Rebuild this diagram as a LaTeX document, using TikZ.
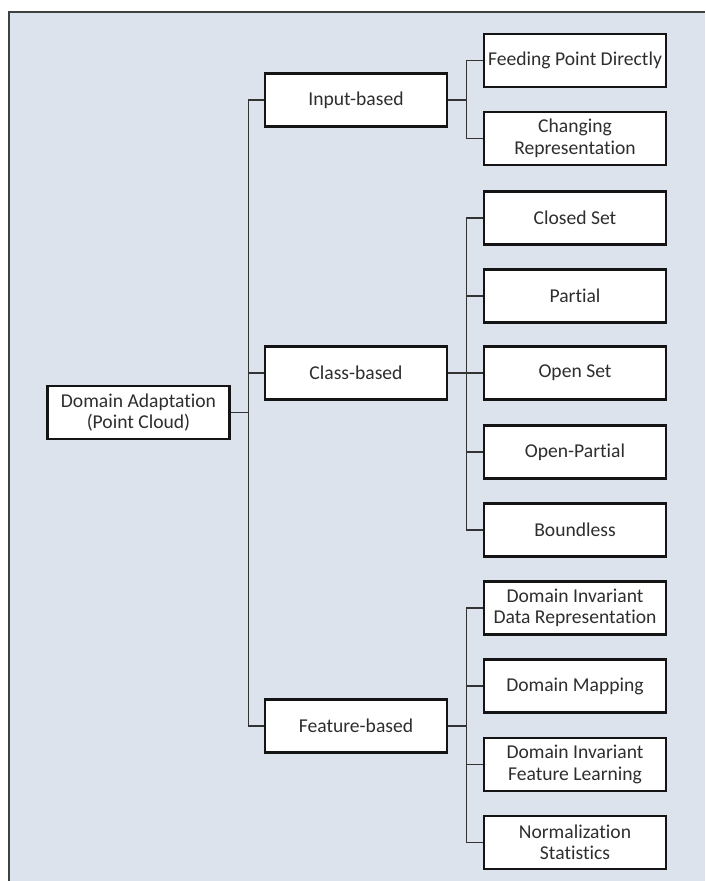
\documentclass[tikz,border=0pt]{standalone}
\usepackage{fontspec}
\setmainfont{Carlito}[Ligatures={NoCommon}]
\usetikzlibrary{calc}
\definecolor{bgpat}{HTML}{DCE3EC}
\definecolor{txt}{HTML}{2E2E2E}
\definecolor{frame}{HTML}{404040}
\tikzset{
  box/.style={draw=black!92, line width=2.8pt, fill=white, text=txt, align=center,
    inner sep=0pt, minimum width=182pt, minimum height=53pt,
    font=\fontsize{19.6}{21.5}\selectfont},
  conn/.style={draw=black!80, line width=1.5pt}
}
\begin{document}
\begin{tikzpicture}[x=1pt,y=-1pt]
\useasboundingbox (0,0) rectangle (705,881);
\fill[white] (0,0) rectangle (705,881);
\fill[bgpat] (9,12) rectangle (705,881);
\draw[frame, line width=1.6pt] (9,881) -- (9,12) -- (705,12);

\node[box] (root) at (138.5,412.5) {Domain Adaptation\\(Point Cloud)};
\node[box] (inp) at (356,100) {Input-based};
\node[box] (cls) at (356,373) {Class-based};
\node[box] (feat) at (356,726) {Feature-based};

\node[box] (fpd) at (575,60.5) {Feeding Point Directly};
\node[box] (chr) at (575,138.5) {Changing\\Representation};
\node[box] (cset) at (575,218) {Closed Set};
\node[box] (part) at (575,296) {Partial};
\node[box] (oset) at (575,373) {Open Set};
\node[box] (opart) at (575,452) {Open-Partial};
\node[box] (bound) at (575,530) {Boundless};
\node[box] (didr) at (575,608) {Domain Invariant\\Data Representation};
\node[box] (dmap) at (575,686) {Domain Mapping};
\node[box] (difl) at (575,764.5) {Domain Invariant\\Feature Learning};
\node[box] (nstat) at (575,842.5) {Normalization\\Statistics};

% main trunk
\draw[conn] (root.east) -- ([xshift=-15pt]cls.west |- root.east);
\draw[conn] (inp.west) -- ++(-15,0) |- (feat.west);
\draw[conn] (cls.west) -- ++(-15,0);

% input subtree
\draw[conn] (inp.east) -- ([xshift=-16pt]fpd.west |- inp.east);
\draw[conn] (fpd.west) -- ++(-16,0) |- (chr.west);

% class subtree
\draw[conn] (cls.east) -- (oset.west);
\draw[conn] (cset.west) -- ++(-16,0) |- (bound.west);
\draw[conn] (part.west) -- ++(-16,0);
\draw[conn] (opart.west) -- ++(-16,0);

% feature subtree
\draw[conn] (feat.east) -- ([xshift=-16pt]didr.west |- feat.east);
\draw[conn] (didr.west) -- ++(-16,0) |- (nstat.west);
\draw[conn] (dmap.west) -- ++(-16,0);
\draw[conn] (difl.west) -- ++(-16,0);
\end{tikzpicture}
\end{document}
